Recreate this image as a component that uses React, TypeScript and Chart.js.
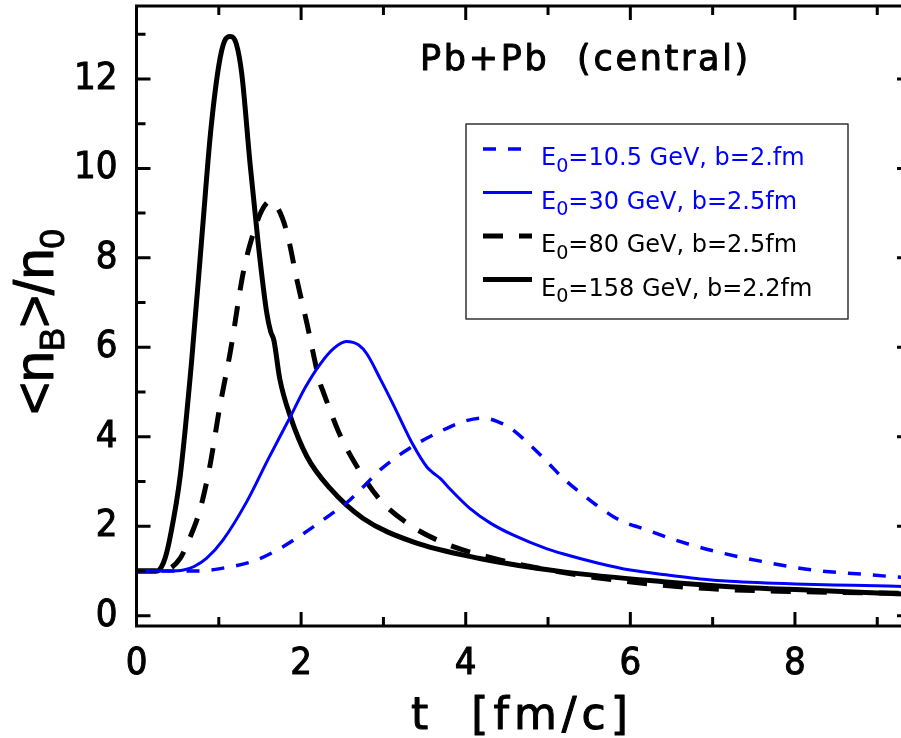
import { useEffect, useRef } from 'react';
import { Chart, registerables } from 'chart.js';

Chart.register(...registerables);

// E0 = 10.5 GeV (blue dashed)
const t105 = [0, 0.5, 0.75, 1.1, 1.42, 1.74, 2.0, 2.35, 2.55, 2.76, 2.96, 3.2, 3.44, 3.69, 3.97, 4.21, 4.4, 4.54, 4.78, 5.0, 5.19, 5.4, 5.59, 5.79, 5.95, 6.1, 6.6, 7.05, 7.58, 8.22, 8.8, 9.41];
const n105 = [1.0, 1.0, 1.0, 1.08, 1.22, 1.5, 1.8, 2.25, 2.52, 2.89, 3.26, 3.6, 3.88, 4.12, 4.34, 4.42, 4.33, 4.2, 3.82, 3.42, 3.06, 2.74, 2.47, 2.22, 2.07, 1.98, 1.66, 1.43, 1.22, 1.02, 0.93, 0.84];

// E0 = 30 GeV (blue solid)
const t30 = [0, 0.4, 0.57, 0.7, 0.85, 1.05, 1.34, 1.6, 1.87, 2.05, 2.23, 2.4, 2.55, 2.7, 2.8, 2.96, 3.12, 3.36, 3.53, 3.6, 3.69, 3.8, 4.05, 4.3, 4.58, 4.98, 5.19, 5.6, 6.0, 6.5, 6.85, 7.21, 8.0, 8.7, 9.41];
const n30 = [1.0, 1.0, 1.02, 1.1, 1.28, 1.69, 2.55, 3.5, 4.45, 5.1, 5.62, 5.98, 6.13, 6.05, 5.85, 5.3, 4.72, 3.82, 3.32, 3.2, 3.07, 2.85, 2.4, 2.07, 1.8, 1.5, 1.38, 1.18, 1.02, 0.9, 0.82, 0.77, 0.71, 0.68, 0.65];

// E0 = 80 GeV (black dashed)
const t80 = [0, 0.3, 0.4, 0.53, 0.65, 0.77, 0.89, 1.01, 1.14, 1.3, 1.42, 1.52, 1.62, 1.72, 1.83, 1.95, 2.07, 2.23, 2.27, 2.35, 2.47, 2.68, 2.96, 3.32, 3.77, 4.26, 4.78, 5.59, 6.81, 8.0, 9.41];
const n80 = [1.0, 1.0, 1.05, 1.28, 1.75, 2.36, 3.33, 4.65, 5.9, 7.7, 8.55, 9.05, 9.26, 9.1, 8.55, 7.5, 6.54, 5.2, 5.0, 4.6, 4.05, 3.33, 2.59, 2.03, 1.6, 1.32, 1.1, 0.85, 0.62, 0.54, 0.5];

// E0 = 158 GeV (black solid)
const t158 = [0, 0.25, 0.3, 0.35, 0.41, 0.53, 0.67, 0.8, 0.9, 1.0, 1.07, 1.14, 1.21, 1.28, 1.38, 1.48, 1.58, 1.63, 1.67, 1.74, 1.87, 2.07, 2.35, 2.75, 3.36, 4.17, 5.19, 6.4, 7.21, 8.2, 9.41];
const n158 = [1.0, 1.0, 1.08, 1.3, 1.77, 3.11, 5.7, 8.6, 10.8, 12.3, 12.85, 12.95, 12.8, 12.1, 10.1, 8.3, 6.8, 6.35, 6.15, 5.3, 4.45, 3.56, 2.85, 2.18, 1.65, 1.28, 0.98, 0.76, 0.65, 0.57, 0.48];

const seriesLabels = [
  'E₀=10.5 GeV, b=2.fm',
  'E₀=30 GeV, b=2.5fm',
  'E₀=80 GeV, b=2.5fm',
  'E₀=158 GeV, b=2.2fm',
];

const xMajor = [0, 2, 4, 6, 8];
const xMinor = [1, 3, 5, 7, 9];
const yMajor = [0, 2, 4, 6, 8, 10, 12];
const yMinor = [1, 3, 5, 7, 9, 11, 13];

const xRange = [0, 9.41];
const yRange = [-0.23, 13.63];

const plotTitle = 'Pb+Pb  (central)';
const xTitle = 't  [fm/c]';
const yTitleParts: [string, boolean][] = [['<n', false], ['B', true], ['>/n', false], ['0', true]];

const zip = (t: number[], n: number[]) => t.map((x, i) => ({ x, y: n[i] }));

function drawParts(ctx: CanvasRenderingContext2D, x: number, y: number, parts: [string, boolean][], size: number, family: string, subScale: number, subDrop: number, stroke = 0) {
  let cx = x;
  for (const [txt, sub] of parts) {
    const s = sub ? size * subScale : size;
    ctx.font = `${s}px ${family}`;
    const yy = sub ? y + size * subDrop : y;
    ctx.fillText(txt, cx, yy);
    if (stroke > 0) {
      ctx.lineWidth = stroke;
      ctx.strokeText(txt, cx, yy);
    }
    cx += ctx.measureText(txt).width;
  }
  return cx - x;
}

function measureParts(ctx: CanvasRenderingContext2D, parts: [string, boolean][], size: number, family: string, subScale: number) {
  let w = 0;
  for (const [txt, sub] of parts) {
    ctx.font = `${sub ? size * subScale : size}px ${family}`;
    w += ctx.measureText(txt).width;
  }
  return w;
}

function labelParts(label: string): [string, boolean][] {
  const i = label.indexOf('₀');
  if (i < 0) return [[label, false]];
  return [[label.slice(0, i), false], ['0', true], [label.slice(i + 1), false]];
}

const framePlugin = {
  id: 'frameTicks',
  afterDraw(chart: any) {
    const { ctx, chartArea: a, scales } = chart;
    const xs = scales.x, ys = scales.y;
    ctx.save();
    ctx.strokeStyle = '#000';
    ctx.lineWidth = 3;
    ctx.strokeRect(a.left, a.top, a.right - a.left, a.bottom - a.top);
    const tick = (v: number, len: number, horiz: boolean) => {
      ctx.beginPath();
      if (horiz) {
        const p = xs.getPixelForValue(v);
        ctx.moveTo(p, a.bottom); ctx.lineTo(p, a.bottom - len);
        ctx.moveTo(p, a.top); ctx.lineTo(p, a.top + len);
      } else {
        const p = ys.getPixelForValue(v);
        ctx.moveTo(a.left, p); ctx.lineTo(a.left + len, p);
        ctx.moveTo(a.right, p); ctx.lineTo(a.right - len, p);
      }
      ctx.stroke();
    };
    xMajor.forEach(v => tick(v, 14, true));
    xMinor.forEach(v => tick(v, 9, true));
    yMajor.forEach(v => tick(v, 14, false));
    yMinor.forEach(v => tick(v, 9, false));
    ctx.restore();
  },
};

const textPlugin = {
  id: 'texts',
  afterDraw(chart: any) {
    const { ctx } = chart;
    ctx.save();
    ctx.fillStyle = '#000';
    ctx.strokeStyle = '#000';
    ctx.textBaseline = 'alphabetic';
    ctx.textAlign = 'left';
    ctx.lineJoin = 'round';

    // Plot annotation
    ctx.font = '35px "DejaVu Sans"';
    (ctx as any).letterSpacing = '2.7px';
    ctx.fillText(plotTitle, 420, 70);
    ctx.lineWidth = 1;
    ctx.strokeText(plotTitle, 420, 70);

    // X title
    ctx.font = '44px "DejaVu Sans"';
    (ctx as any).letterSpacing = '5px';
    ctx.fillText(xTitle, 411, 729);
    ctx.strokeText(xTitle, 411, 729);
    (ctx as any).letterSpacing = '0px';

    // Y title (rotated)
    const fam = '"Liberation Sans", Arial, sans-serif';
    const ySize = 56;
    const w = measureParts(ctx, yTitleParts, ySize, fam, 0.62);
    ctx.save();
    ctx.translate(53, 322 + w / 2);
    ctx.rotate(-Math.PI / 2);
    drawParts(ctx, 0, 0, yTitleParts, ySize, fam, 0.62, 0.2, 1);
    ctx.restore();

    // Legend
    const L = { x0: 466, y0: 124, x1: 848, y1: 319 };
    ctx.strokeStyle = '#333';
    ctx.lineWidth = 1.5;
    ctx.strokeRect(L.x0, L.y0, L.x1 - L.x0, L.y1 - L.y0);
    chart.data.datasets.forEach((ds: any, i: number) => {
      const ly = 149 + i * 43.5;
      ctx.save();
      ctx.strokeStyle = ds.borderColor;
      ctx.lineWidth = ds.borderWidth;
      ctx.setLineDash(ds.borderDash || []);
      ctx.beginPath();
      ctx.moveTo(483, ly);
      ctx.lineTo(532, ly);
      ctx.stroke();
      ctx.restore();
      ctx.fillStyle = ds.borderColor;
      drawParts(ctx, 541, ly + 16, labelParts(ds.label), 24, '"DejaVu Sans"', 0.8, 0.28);
    });
    ctx.restore();
  },
};

export default function App() {
  const ref = useRef<HTMLCanvasElement>(null);
  useEffect(() => {
    document.body.style.margin = '0';
    const canvas = ref.current!;
    const tickFont = { family: '"Liberation Sans Narrow", "DejaVu Sans Condensed", "Liberation Sans", sans-serif', size: 38 };
    const chart = new Chart(canvas, {
      type: 'line',
      data: {
        datasets: [
          { label: seriesLabels[0], data: zip(t105, n105), borderColor: '#0000ff', borderWidth: 3.5, borderDash: [13, 12], pointRadius: 0, fill: false, cubicInterpolationMode: 'monotone' },
          { label: seriesLabels[1], data: zip(t30, n30), borderColor: '#0000ff', borderWidth: 3, pointRadius: 0, fill: false, cubicInterpolationMode: 'monotone' },
          { label: seriesLabels[2], data: zip(t80, n80), borderColor: '#000000', borderWidth: 5, borderDash: [20, 16], pointRadius: 0, fill: false, cubicInterpolationMode: 'monotone' },
          { label: seriesLabels[3], data: zip(t158, n158), borderColor: '#000000', borderWidth: 5, pointRadius: 0, fill: false, cubicInterpolationMode: 'monotone' },
        ],
      },
      options: {
        responsive: false,
        animation: false,
        devicePixelRatio: 1,
        layout: { padding: { left: 0, top: 6, right: 19, bottom: 0 } },
        plugins: { legend: { display: false }, tooltip: { enabled: false }, title: { display: false } },
        scales: {
          x: {
            type: 'linear',
            min: xRange[0],
            max: xRange[1],
            grid: { display: false, drawTicks: false },
            border: { display: false },
            ticks: { font: tickFont, color: '#000', padding: 15, maxRotation: 0, textStrokeColor: '#000', textStrokeWidth: 1 },
            afterBuildTicks: (s: any) => { s.ticks = xMajor.map(v => ({ value: v })); },
            afterFit: (s: any) => { s.height = 112; s.paddingLeft = 0; s.paddingRight = 0; s.paddingTop = 0; s.paddingBottom = 0; },
          },
          y: {
            type: 'linear',
            min: yRange[0],
            max: yRange[1],
            grid: { display: false, drawTicks: false },
            border: { display: false },
            ticks: { font: tickFont, color: '#000', padding: 19, textStrokeColor: '#000', textStrokeWidth: 1 },
            afterBuildTicks: (s: any) => { s.ticks = yMajor.map(v => ({ value: v })); },
            afterFit: (s: any) => { s.width = 136.5; s.paddingTop = 0; s.paddingBottom = 0; s.paddingLeft = 0; s.paddingRight = 0; },
          },
        },
      } as any,
      plugins: [framePlugin, textPlugin],
    });
    return () => chart.destroy();
  }, []);
  return (
    <div style={{ position: 'fixed', left: 0, top: 0, width: 901, height: 738, overflow: 'hidden', background: '#fff' }}>
      <canvas ref={ref} width={930} height={738} style={{ width: 930, height: 738, display: 'block' }} />
    </div>
  );
}
